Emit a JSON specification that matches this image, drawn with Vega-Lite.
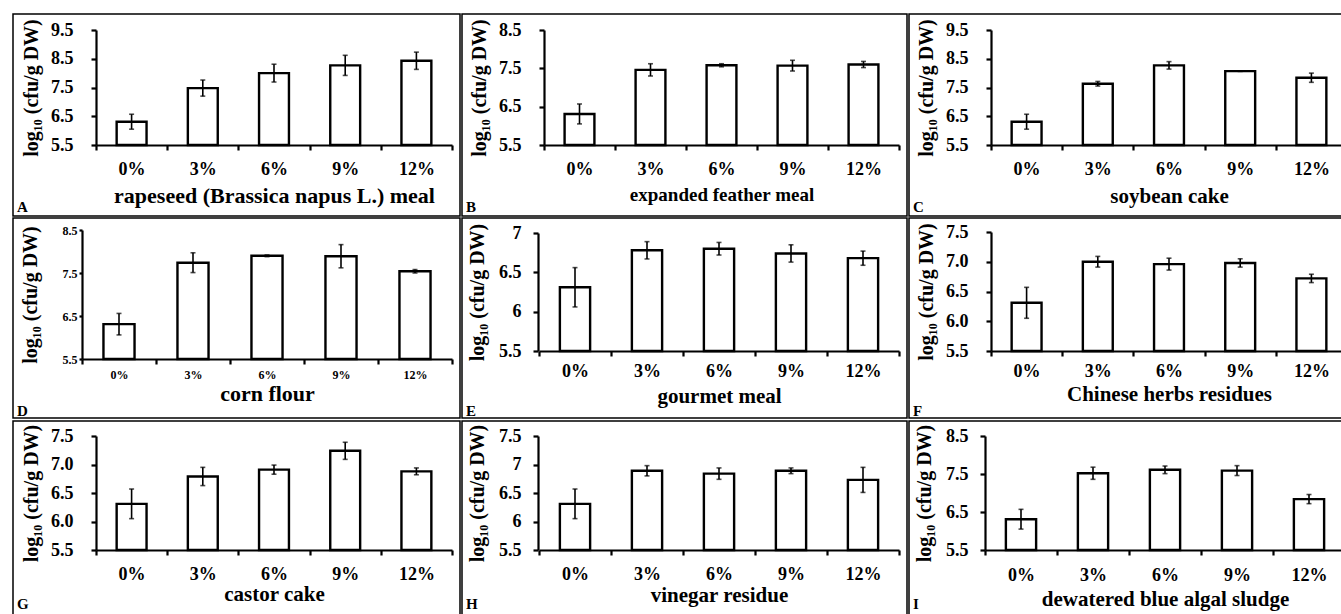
{
  "$schema": "https://vega.github.io/schema/vega-lite/v6.json",
  "padding": {"left": 12, "top": 13, "right": 0, "bottom": 0},
  "background": "white",
  "datasets": {
    "d": [
      {"panel": "A", "pct": "0%", "mean": 6.31, "err": 0.26},
      {"panel": "A", "pct": "3%", "mean": 7.48, "err": 0.28},
      {"panel": "A", "pct": "6%", "mean": 8.0, "err": 0.31},
      {"panel": "A", "pct": "9%", "mean": 8.27, "err": 0.35},
      {"panel": "A", "pct": "12%", "mean": 8.43, "err": 0.3},
      {"panel": "B", "pct": "0%", "mean": 6.31, "err": 0.26},
      {"panel": "B", "pct": "3%", "mean": 7.46, "err": 0.16},
      {"panel": "B", "pct": "6%", "mean": 7.58, "err": 0.04},
      {"panel": "B", "pct": "9%", "mean": 7.57, "err": 0.14},
      {"panel": "B", "pct": "12%", "mean": 7.6, "err": 0.08},
      {"panel": "C", "pct": "0%", "mean": 6.31, "err": 0.26},
      {"panel": "C", "pct": "3%", "mean": 7.63, "err": 0.08},
      {"panel": "C", "pct": "6%", "mean": 8.27, "err": 0.13},
      {"panel": "C", "pct": "9%", "mean": 8.07, "err": 0.01},
      {"panel": "C", "pct": "12%", "mean": 7.84, "err": 0.16},
      {"panel": "D", "pct": "0%", "mean": 6.31, "err": 0.25},
      {"panel": "D", "pct": "3%", "mean": 7.74, "err": 0.23},
      {"panel": "D", "pct": "6%", "mean": 7.9, "err": 0.02},
      {"panel": "D", "pct": "9%", "mean": 7.89, "err": 0.27},
      {"panel": "D", "pct": "12%", "mean": 7.54, "err": 0.04},
      {"panel": "E", "pct": "0%", "mean": 6.31, "err": 0.25},
      {"panel": "E", "pct": "3%", "mean": 6.78, "err": 0.11},
      {"panel": "E", "pct": "6%", "mean": 6.8, "err": 0.08},
      {"panel": "E", "pct": "9%", "mean": 6.74, "err": 0.11},
      {"panel": "E", "pct": "12%", "mean": 6.68, "err": 0.09},
      {"panel": "F", "pct": "0%", "mean": 6.31, "err": 0.26},
      {"panel": "F", "pct": "3%", "mean": 7.0, "err": 0.09},
      {"panel": "F", "pct": "6%", "mean": 6.96, "err": 0.1},
      {"panel": "F", "pct": "9%", "mean": 6.98, "err": 0.07},
      {"panel": "F", "pct": "12%", "mean": 6.72, "err": 0.07},
      {"panel": "G", "pct": "0%", "mean": 6.31, "err": 0.26},
      {"panel": "G", "pct": "3%", "mean": 6.79, "err": 0.16},
      {"panel": "G", "pct": "6%", "mean": 6.91, "err": 0.08},
      {"panel": "G", "pct": "9%", "mean": 7.24, "err": 0.15},
      {"panel": "G", "pct": "12%", "mean": 6.88, "err": 0.06},
      {"panel": "H", "pct": "0%", "mean": 6.31, "err": 0.26},
      {"panel": "H", "pct": "3%", "mean": 6.89, "err": 0.09},
      {"panel": "H", "pct": "6%", "mean": 6.84, "err": 0.1},
      {"panel": "H", "pct": "9%", "mean": 6.89, "err": 0.05},
      {"panel": "H", "pct": "12%", "mean": 6.73, "err": 0.22},
      {"panel": "I", "pct": "0%", "mean": 6.31, "err": 0.26},
      {"panel": "I", "pct": "3%", "mean": 7.52, "err": 0.16},
      {"panel": "I", "pct": "6%", "mean": 7.61, "err": 0.1},
      {"panel": "I", "pct": "9%", "mean": 7.59, "err": 0.13},
      {"panel": "I", "pct": "12%", "mean": 6.84, "err": 0.12}
    ]
  },
  "vconcat": [
    {
      "hconcat": [
        {
          "width": 447, "height": 202,
          "data": {"name": "d"},
          "transform": [{"filter": "datum.panel == 'A'"}],
          "title": {"text": "A", "orient": "bottom", "anchor": "start", "frame": "bounds", "offset": -16, "dx": 4},
          "layer": [
            {"mark": {"type": "bar", "fill": "white", "stroke": "black", "strokeWidth": 2.4, "width": {"band": 0.42}},
             "encoding": {
               "x": {"field": "pct", "type": "ordinal", "sort": ["0%", "3%", "6%", "9%", "12%"], "scale": {"range": [83, 439], "paddingInner": 0, "paddingOuter": 0},
                     "axis": {"title": "rapeseed (Brassica napus L.) meal", "offset": -71, "tickBand": "extent", "titleFontSize": 22}},
               "y": {"field": "mean", "type": "quantitative", "scale": {"domain": [5.5, 9.5], "range": [131, 16], "nice": false, "zero": false},
                     "axis": {"title": "log₁₀ (cfu/g DW)", "offset": -83, "values": [5.5, 6.5, 7.5, 8.5, 9.5], "format": ".1f", "labelPadding": 18, "titlePadding": 9}},
               "y2": {"datum": 5.5}
             }},
            {"mark": {"type": "errorbar", "ticks": {"size": 5, "thickness": 1.6, "color": "black"}, "rule": {"strokeWidth": 1.6, "color": "black"}},
             "encoding": {
               "x": {"field": "pct", "type": "ordinal", "sort": ["0%", "3%", "6%", "9%", "12%"]},
               "y": {"field": "mean", "type": "quantitative", "title": "log₁₀ (cfu/g DW)"},
               "yError": {"field": "err"}
             }}
          ]
        },
        {
          "width": 445, "height": 202,
          "data": {"name": "d"},
          "transform": [{"filter": "datum.panel == 'B'"}],
          "title": {"text": "B", "orient": "bottom", "anchor": "start", "frame": "bounds", "offset": -16, "dx": 4},
          "layer": [
            {"mark": {"type": "bar", "fill": "white", "stroke": "black", "strokeWidth": 2.4, "width": {"band": 0.42}},
             "encoding": {
               "x": {"field": "pct", "type": "ordinal", "sort": ["0%", "3%", "6%", "9%", "12%"], "scale": {"range": [82, 437], "paddingInner": 0, "paddingOuter": 0},
                     "axis": {"title": "expanded feather meal", "offset": -71, "tickBand": "extent", "titleFontSize": 19}},
               "y": {"field": "mean", "type": "quantitative", "scale": {"domain": [5.5, 8.5], "range": [131, 16], "nice": false, "zero": false},
                     "axis": {"title": "log₁₀ (cfu/g DW)", "offset": -82, "values": [5.5, 6.5, 7.5, 8.5], "format": ".1f", "labelPadding": 18, "titlePadding": 9}},
               "y2": {"datum": 5.5}
             }},
            {"mark": {"type": "errorbar", "ticks": {"size": 5, "thickness": 1.6, "color": "black"}, "rule": {"strokeWidth": 1.6, "color": "black"}},
             "encoding": {
               "x": {"field": "pct", "type": "ordinal", "sort": ["0%", "3%", "6%", "9%", "12%"]},
               "y": {"field": "mean", "type": "quantitative", "title": "log₁₀ (cfu/g DW)"},
               "yError": {"field": "err"}
             }}
          ]
        },
        {
          "width": 447, "height": 202,
          "data": {"name": "d"},
          "transform": [{"filter": "datum.panel == 'C'"}],
          "title": {"text": "C", "orient": "bottom", "anchor": "start", "frame": "bounds", "offset": -16, "dx": 4},
          "layer": [
            {"mark": {"type": "bar", "fill": "white", "stroke": "black", "strokeWidth": 2.4, "width": {"band": 0.42}},
             "encoding": {
               "x": {"field": "pct", "type": "ordinal", "sort": ["0%", "3%", "6%", "9%", "12%"], "scale": {"range": [82, 438], "paddingInner": 0, "paddingOuter": 0},
                     "axis": {"title": "soybean cake", "offset": -71, "tickBand": "extent"}},
               "y": {"field": "mean", "type": "quantitative", "scale": {"domain": [5.5, 9.5], "range": [131, 16], "nice": false, "zero": false},
                     "axis": {"title": "log₁₀ (cfu/g DW)", "offset": -82, "values": [5.5, 6.5, 7.5, 8.5, 9.5], "format": ".1f", "labelPadding": 18, "titlePadding": 9}},
               "y2": {"datum": 5.5}
             }},
            {"mark": {"type": "errorbar", "ticks": {"size": 5, "thickness": 1.6, "color": "black"}, "rule": {"strokeWidth": 1.6, "color": "black"}},
             "encoding": {
               "x": {"field": "pct", "type": "ordinal", "sort": ["0%", "3%", "6%", "9%", "12%"]},
               "y": {"field": "mean", "type": "quantitative", "title": "log₁₀ (cfu/g DW)"},
               "yError": {"field": "err"}
             }}
          ]
        }
      ]
    },
    {
      "hconcat": [
        {
          "width": 447, "height": 200,
          "data": {"name": "d"},
          "transform": [{"filter": "datum.panel == 'D'"}],
          "title": {"text": "D", "orient": "bottom", "anchor": "start", "frame": "bounds", "offset": -14, "dx": 4},
          "layer": [
            {"mark": {"type": "bar", "fill": "white", "stroke": "black", "strokeWidth": 2.4, "width": {"band": 0.42}},
             "encoding": {
               "x": {"field": "pct", "type": "ordinal", "sort": ["0%", "3%", "6%", "9%", "12%"], "scale": {"range": [69, 439], "paddingInner": 0, "paddingOuter": 0},
                     "axis": {"title": "corn flour", "offset": -59, "tickBand": "extent", "labelFontSize": 12, "labelPadding": 5, "titleFontSize": 22, "titlePadding": 3}},
               "y": {"field": "mean", "type": "quantitative", "scale": {"domain": [5.5, 8.5], "range": [141, 12], "nice": false, "zero": false},
                     "axis": {"title": "log₁₀ (cfu/g DW)", "offset": -69, "values": [5.5, 6.5, 7.5, 8.5], "format": ".1f", "labelFontSize": 12, "labelPadding": 2, "tickSize": 3, "titlePadding": 22}},
               "y2": {"datum": 5.5}
             }},
            {"mark": {"type": "errorbar", "ticks": {"size": 5, "thickness": 1.6, "color": "black"}, "rule": {"strokeWidth": 1.6, "color": "black"}},
             "encoding": {
               "x": {"field": "pct", "type": "ordinal", "sort": ["0%", "3%", "6%", "9%", "12%"]},
               "y": {"field": "mean", "type": "quantitative", "title": "log₁₀ (cfu/g DW)"},
               "yError": {"field": "err"}
             }}
          ]
        },
        {
          "width": 445, "height": 200,
          "data": {"name": "d"},
          "transform": [{"filter": "datum.panel == 'E'"}],
          "title": {"text": "E", "orient": "bottom", "anchor": "start", "frame": "bounds", "offset": -14, "dx": 4},
          "layer": [
            {"mark": {"type": "bar", "fill": "white", "stroke": "black", "strokeWidth": 2.4, "width": {"band": 0.42}},
             "encoding": {
               "x": {"field": "pct", "type": "ordinal", "sort": ["0%", "3%", "6%", "9%", "12%"], "scale": {"range": [77, 437], "paddingInner": 0, "paddingOuter": 0},
                     "axis": {"title": "gourmet meal", "offset": -67, "tickBand": "extent", "labelPadding": 6, "titlePadding": 5}},
               "y": {"field": "mean", "type": "quantitative", "scale": {"domain": [5.5, 7], "range": [133, 15], "nice": false, "zero": false},
                     "axis": {"title": "log₁₀ (cfu/g DW)", "offset": -76, "values": [5.5, 6, 6.5, 7], "format": "~g", "labelPadding": 12, "titlePadding": 11}},
               "y2": {"datum": 5.5}
             }},
            {"mark": {"type": "errorbar", "ticks": {"size": 5, "thickness": 1.6, "color": "black"}, "rule": {"strokeWidth": 1.6, "color": "black"}},
             "encoding": {
               "x": {"field": "pct", "type": "ordinal", "sort": ["0%", "3%", "6%", "9%", "12%"]},
               "y": {"field": "mean", "type": "quantitative", "title": "log₁₀ (cfu/g DW)"},
               "yError": {"field": "err"}
             }}
          ]
        },
        {
          "width": 447, "height": 200,
          "data": {"name": "d"},
          "transform": [{"filter": "datum.panel == 'F'"}],
          "title": {"text": "F", "orient": "bottom", "anchor": "start", "frame": "bounds", "offset": -14, "dx": 4},
          "layer": [
            {"mark": {"type": "bar", "fill": "white", "stroke": "black", "strokeWidth": 2.4, "width": {"band": 0.42}},
             "encoding": {
               "x": {"field": "pct", "type": "ordinal", "sort": ["0%", "3%", "6%", "9%", "12%"], "scale": {"range": [82, 438], "paddingInner": 0, "paddingOuter": 0},
                     "axis": {"title": "Chinese herbs residues", "offset": -67, "tickBand": "extent", "labelPadding": 6, "titlePadding": 3}},
               "y": {"field": "mean", "type": "quantitative", "scale": {"domain": [5.5, 7.5], "range": [133, 14], "nice": false, "zero": false},
                     "axis": {"title": "log₁₀ (cfu/g DW)", "offset": -82, "values": [5.5, 6, 6.5, 7, 7.5], "format": ".1f", "labelPadding": 18, "titlePadding": 9}},
               "y2": {"datum": 5.5}
             }},
            {"mark": {"type": "errorbar", "ticks": {"size": 5, "thickness": 1.6, "color": "black"}, "rule": {"strokeWidth": 1.6, "color": "black"}},
             "encoding": {
               "x": {"field": "pct", "type": "ordinal", "sort": ["0%", "3%", "6%", "9%", "12%"]},
               "y": {"field": "mean", "type": "quantitative", "title": "log₁₀ (cfu/g DW)"},
               "yError": {"field": "err"}
             }}
          ]
        }
      ]
    },
    {
      "hconcat": [
        {
          "width": 447, "height": 200,
          "data": {"name": "d"},
          "transform": [{"filter": "datum.panel == 'G'"}],
          "title": {"text": "G", "orient": "bottom", "anchor": "start", "frame": "bounds", "offset": -24, "dx": 4},
          "layer": [
            {"mark": {"type": "bar", "fill": "white", "stroke": "black", "strokeWidth": 2.4, "width": {"band": 0.42}},
             "encoding": {
               "x": {"field": "pct", "type": "ordinal", "sort": ["0%", "3%", "6%", "9%", "12%"], "scale": {"range": [83, 439], "paddingInner": 0, "paddingOuter": 0},
                     "axis": {"title": "castor cake", "offset": -71, "tickBand": "extent", "labelPadding": 10, "titlePadding": 0}},
               "y": {"field": "mean", "type": "quantitative", "scale": {"domain": [5.5, 7.5], "range": [129, 15], "nice": false, "zero": false},
                     "axis": {"title": "log₁₀ (cfu/g DW)", "offset": -83, "values": [5.5, 6, 6.5, 7, 7.5], "format": ".1f", "labelPadding": 18, "titlePadding": 9}},
               "y2": {"datum": 5.5}
             }},
            {"mark": {"type": "errorbar", "ticks": {"size": 5, "thickness": 1.6, "color": "black"}, "rule": {"strokeWidth": 1.6, "color": "black"}},
             "encoding": {
               "x": {"field": "pct", "type": "ordinal", "sort": ["0%", "3%", "6%", "9%", "12%"]},
               "y": {"field": "mean", "type": "quantitative", "title": "log₁₀ (cfu/g DW)"},
               "yError": {"field": "err"}
             }}
          ]
        },
        {
          "width": 445, "height": 200,
          "data": {"name": "d"},
          "transform": [{"filter": "datum.panel == 'H'"}],
          "title": {"text": "H", "orient": "bottom", "anchor": "start", "frame": "bounds", "offset": -24, "dx": 4},
          "layer": [
            {"mark": {"type": "bar", "fill": "white", "stroke": "black", "strokeWidth": 2.4, "width": {"band": 0.42}},
             "encoding": {
               "x": {"field": "pct", "type": "ordinal", "sort": ["0%", "3%", "6%", "9%", "12%"], "scale": {"range": [77, 437], "paddingInner": 0, "paddingOuter": 0},
                     "axis": {"title": "vinegar residue", "offset": -71, "tickBand": "extent", "labelPadding": 10, "titlePadding": 1}},
               "y": {"field": "mean", "type": "quantitative", "scale": {"domain": [5.5, 7.5], "range": [129, 15], "nice": false, "zero": false},
                     "axis": {"title": "log₁₀ (cfu/g DW)", "offset": -76, "values": [5.5, 6, 6.5, 7, 7.5], "format": "~g", "labelPadding": 12, "titlePadding": 11}},
               "y2": {"datum": 5.5}
             }},
            {"mark": {"type": "errorbar", "ticks": {"size": 5, "thickness": 1.6, "color": "black"}, "rule": {"strokeWidth": 1.6, "color": "black"}},
             "encoding": {
               "x": {"field": "pct", "type": "ordinal", "sort": ["0%", "3%", "6%", "9%", "12%"]},
               "y": {"field": "mean", "type": "quantitative", "title": "log₁₀ (cfu/g DW)"},
               "yError": {"field": "err"}
             }}
          ]
        },
        {
          "width": 447, "height": 200,
          "data": {"name": "d"},
          "transform": [{"filter": "datum.panel == 'I'"}],
          "title": {"text": "I", "orient": "bottom", "anchor": "start", "frame": "bounds", "offset": -24, "dx": 4},
          "layer": [
            {"mark": {"type": "bar", "fill": "white", "stroke": "black", "strokeWidth": 2.4, "width": {"band": 0.42}},
             "encoding": {
               "x": {"field": "pct", "type": "ordinal", "sort": ["0%", "3%", "6%", "9%", "12%"], "scale": {"range": [76, 436], "paddingInner": 0, "paddingOuter": 0},
                     "axis": {"title": "dewatered blue algal sludge", "offset": -71, "tickBand": "extent", "labelPadding": 11, "titlePadding": 4}},
               "y": {"field": "mean", "type": "quantitative", "scale": {"domain": [5.5, 8.5], "range": [129, 15], "nice": false, "zero": false},
                     "axis": {"title": "log₁₀ (cfu/g DW)", "offset": -76, "values": [5.5, 6.5, 7.5, 8.5], "format": ".1f", "labelPadding": 12, "titlePadding": 11}},
               "y2": {"datum": 5.5}
             }},
            {"mark": {"type": "errorbar", "ticks": {"size": 5, "thickness": 1.6, "color": "black"}, "rule": {"strokeWidth": 1.6, "color": "black"}},
             "encoding": {
               "x": {"field": "pct", "type": "ordinal", "sort": ["0%", "3%", "6%", "9%", "12%"]},
               "y": {"field": "mean", "type": "quantitative", "title": "log₁₀ (cfu/g DW)"},
               "yError": {"field": "err"}
             }}
          ]
        }
      ]
    }
  ],
  "spacing": 0,
  "config": {
    "concat": {"spacing": 0},
    "view": {"stroke": "black", "strokeWidth": 1.5},
    "font": "Liberation Serif",
    "title": {"font": "Liberation Serif", "fontSize": 15, "fontWeight": "bold", "color": "black"},
    "axis": {
      "labelFont": "Liberation Serif", "labelFontWeight": "bold", "labelColor": "black", "labelFontSize": 18,
      "titleFont": "Liberation Serif", "titleFontWeight": "bold", "titleColor": "black",
      "domainColor": "black", "domainWidth": 2.2, "tickColor": "black", "tickWidth": 2.2, "tickSize": 5,
      "grid": false, "labelAngle": 0
    },
    "axisX": {"labelPadding": 10, "titlePadding": 7, "titleFontSize": 21},
    "axisY": {"labelPadding": 15, "titleFontSize": 20}
  }
}
